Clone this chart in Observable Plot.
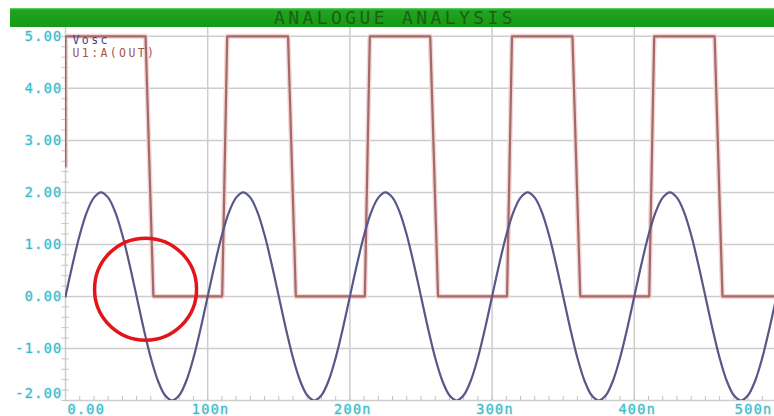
<!DOCTYPE html>
<html>
<head>
<meta charset="utf-8">
<script src="https://cdn.jsdelivr.net/npm/d3@7"></script>
<script src="https://cdn.jsdelivr.net/npm/@observablehq/plot@0.6"></script>
<style>
  body { margin: 0; background: #fff; }
  #wrap { position: relative; width: 774px; height: 416px; overflow: hidden; background: #fff; }
  #title {
    position: absolute; left: 10px; top: 8px; width: 764px; height: 19px;
    background: linear-gradient(#6ad86a 0px, #22a422 2px, #149a14 100%);
    color: #1d5e14; font: 18px "DejaVu Sans Mono", monospace; letter-spacing: 3.4px;
    text-align: center; line-height: 20px; padding-left: 6px; box-sizing: border-box;
  }
  #chart { position: absolute; left: 0; top: 27px; }
</style>
</head>
<body>
<div id="wrap">
  <div id="title">ANALOGUE ANALYSIS</div>
  <div id="chart"></div>
</div>
<script>
// Time axis (ns) and voltage axis ticks
const timeTicks = [0, 100, 200, 300, 400, 500];
const timeLabels = ["0.00", "100n", "200n", "300n", "400n", "500n"];
const voltTicks = [5, 4, 3, 2, 1, 0, -1, -2];
const voltLabels = ["5.00", "4.00", "3.00", "2.00", "1.00", "0.00", "-1.00", "-2.00"];
const traceNames = ["Vosc", "U1:A(OUT)"];

// Input sine (V), sampled every 5 ns from 0 to 500 ns
const sineTimes = d3.range(0, 505, 5);
const sineVolts = [
  0, 0.62, 1.18, 1.62, 1.90, 2.00, 1.90, 1.62, 1.18, 0.62,
  0, -0.62, -1.18, -1.62, -1.90, -2.00, -1.90, -1.62, -1.18, -0.62,
  0, 0.62, 1.18, 1.62, 1.90, 2.00, 1.90, 1.62, 1.18, 0.62,
  0, -0.62, -1.18, -1.62, -1.90, -2.00, -1.90, -1.62, -1.18, -0.62,
  0, 0.62, 1.18, 1.62, 1.90, 2.00, 1.90, 1.62, 1.18, 0.62,
  0, -0.62, -1.18, -1.62, -1.90, -2.00, -1.90, -1.62, -1.18, -0.62,
  0, 0.62, 1.18, 1.62, 1.90, 2.00, 1.90, 1.62, 1.18, 0.62,
  0, -0.62, -1.18, -1.62, -1.90, -2.00, -1.90, -1.62, -1.18, -0.62,
  0, 0.62, 1.18, 1.62, 1.90, 2.00, 1.90, 1.62, 1.18, 0.62,
  0, -0.62, -1.18, -1.62, -1.90, -2.00, -1.90, -1.62, -1.18, -0.62,
  0
];

// Comparator output U1:A(OUT): edge times (ns) and levels (V)
const outTimes = [0, 0, 56.3, 61.8, 110.2, 113.7, 156.5, 162, 210.5, 214,
                  256.5, 262, 310.5, 314, 356.5, 362, 410.5, 414, 456.5, 462, 500];
const outVolts = [2.5, 5, 5, 0, 0, 5, 5, 0, 0, 5,
                  5, 0, 0, 5, 5, 0, 0, 5, 5, 0, 0];

// Highlighted propagation-delay region
const highlight = [{t: 56.3, v: 0.14}];

const minorTimes = d3.range(10, 500, 10);
const minorVolts = d3.range(-2, 5.01, 0.2);

const gridColor = "#cdcdcd";
const labelColor = "#38b9c8";
const labelGlow = "#d2f2f5";
const sineColor = "#57578a";
const outColor = "#a56a68";
const vColor = "#3c3c92";
const uColor = "#a0574c";

const last = timeTicks.length - 1;

const chart = Plot.plot({
  width: 774,
  height: 389,
  marginTop: 0,
  marginBottom: 16,
  marginLeft: 65,
  marginRight: 0,
  x: {domain: [0, 498.6], axis: null},
  y: {domain: [-2, 5.17], axis: null},
  style: {fontFamily: "'DejaVu Sans Mono', monospace", fontSize: "13.5px", letterSpacing: "1.3px", background: "transparent"},
  marks: [
    Plot.ruleX(timeTicks, {stroke: gridColor, strokeWidth: 1.5}),
    Plot.ruleY(voltTicks, {stroke: gridColor, strokeWidth: 1.5}),
    Plot.ruleX(minorTimes, {y1: -2, y2: -1.92, stroke: "#c4c4c4", strokeWidth: 1}),
    Plot.ruleY(minorVolts, {x1: -2.5, x2: 2.5, stroke: "#c4c4c4", strokeWidth: 1}),
    // output square wave with a faint halo
    Plot.line(outTimes, {x: d => d, y: (d, i) => outVolts[i], stroke: "#f3d6d6", strokeWidth: 5, clip: true}),
    Plot.line(outTimes, {x: d => d, y: (d, i) => outVolts[i], stroke: outColor, strokeWidth: 2.2, clip: true}),
    // input sine
    Plot.line(sineTimes, {x: d => d, y: (d, i) => sineVolts[i], curve: "catmull-rom", stroke: sineColor, strokeWidth: 2.2, clip: true}),
    // highlight circle
    Plot.dot(highlight, {x: "t", y: "v", r: 51, stroke: "#e3151b", strokeWidth: 3.5, fill: "none"}),
    // voltage labels
    Plot.text(voltTicks.slice(0, -1), {x: 0, y: d => d, text: (d, i) => voltLabels[i], textAnchor: "end", dx: -3, fill: labelColor, stroke: labelGlow, strokeWidth: 1.5}),
    Plot.text(voltTicks.slice(-1), {x: 0, y: d => d, text: () => voltLabels[voltLabels.length - 1], textAnchor: "end", dx: -3, dy: -7, fill: labelColor, stroke: labelGlow, strokeWidth: 1.5}),
    // time labels
    Plot.text(timeTicks.slice(0, 1), {x: d => d, y: -2, text: () => timeLabels[0], textAnchor: "start", dx: 2, dy: 9, fill: labelColor, stroke: labelGlow, strokeWidth: 1.5}),
    Plot.text(timeTicks.slice(1, last), {x: d => d, y: -2, text: (d, i) => timeLabels[i + 1], textAnchor: "middle", dx: 3, dy: 9, fill: labelColor, stroke: labelGlow, strokeWidth: 1.5}),
    Plot.text(timeTicks.slice(last), {x: d => d, y: -2, text: () => timeLabels[last], textAnchor: "end", dx: -4, dy: 9, fill: labelColor, stroke: labelGlow, strokeWidth: 1.5}),
    // trace legend
    Plot.text([traceNames[0]], {frameAnchor: "top-left", lineAnchor: "middle", dx: 7, dy: 13, fill: vColor, text: d => d, fontSize: 11.5}),
    Plot.text([traceNames[1]], {frameAnchor: "top-left", lineAnchor: "middle", dx: 7, dy: 26, fill: uColor, text: d => d, fontSize: 11.5})
  ]
});
// wider letter spacing for the trace names
d3.select(chart).selectAll(`g[fill="${vColor}"], g[fill="${uColor}"]`).attr("letter-spacing", "2.4px");
document.getElementById("chart").appendChild(chart);
</script>
</body>
</html>
